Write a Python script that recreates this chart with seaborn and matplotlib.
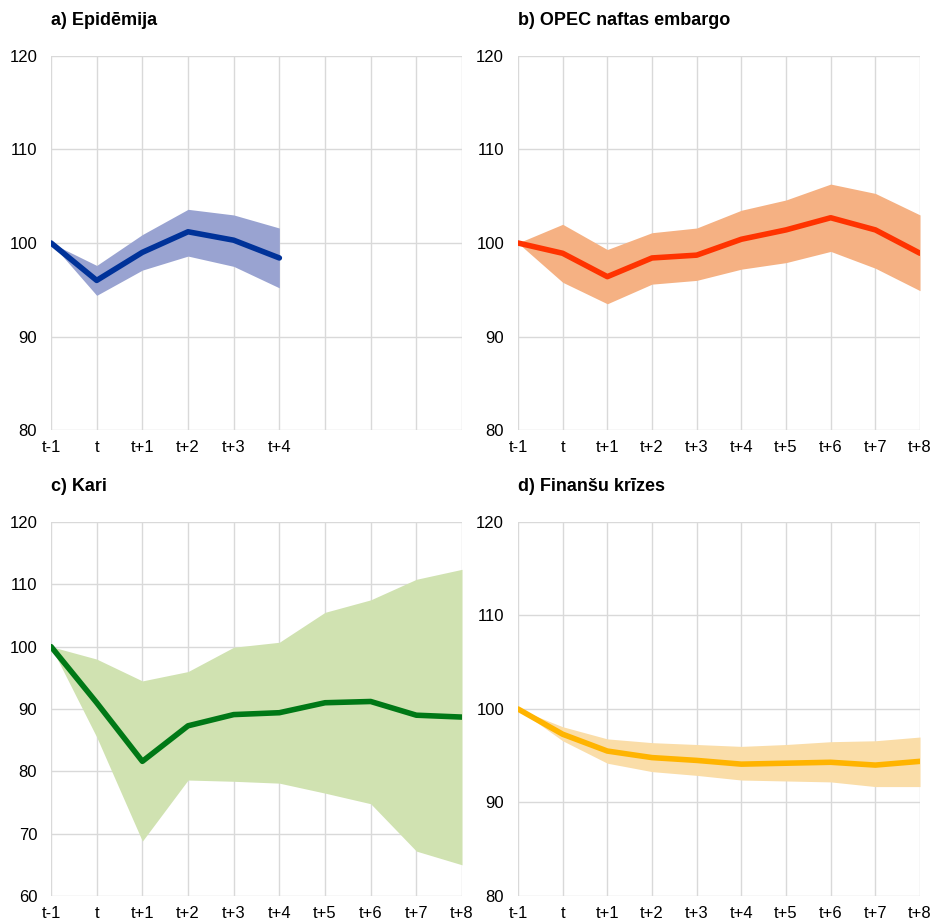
import numpy as np
import pandas as pd
import matplotlib
matplotlib.use("Agg")
import matplotlib.pyplot as plt
import seaborn as sns

labels = ['t-1', 't', 't+1', 't+2', 't+3', 't+4', 't+5', 't+6', 't+7', 't+8']

# a) epidemics
epi_mid = [100, 96.0, 99.0, 101.2, 100.3, 98.4]
epi_hi = [100, 97.6, 100.9, 103.6, 103.0, 101.6]
epi_lo = [100, 94.4, 97.1, 98.6, 97.5, 95.2]

# b) OPEC oil embargo
opec_mid = [100, 98.9, 96.4, 98.4, 98.7, 100.4, 101.4, 102.7, 101.4, 98.9]
opec_hi = [100, 102.0, 99.3, 101.1, 101.6, 103.5, 104.6, 106.3, 105.3, 103.0]
opec_lo = [100, 95.8, 93.5, 95.6, 96.0, 97.2, 97.9, 99.1, 97.3, 94.9]

# c) wars
war_mid = [100, 91.0, 81.6, 87.3, 89.1, 89.4, 91.0, 91.2, 89.0, 88.7]
war_hi = [100, 98.0, 94.5, 96.0, 99.9, 100.7, 105.5, 107.5, 110.8, 112.4]
war_lo = [100, 85.5, 68.8, 78.6, 78.4, 78.1, 76.5, 74.8, 67.2, 65.0]

# d) financial crises
fin_mid = [100, 97.3, 95.5, 94.8, 94.5, 94.1, 94.2, 94.3, 94.0, 94.4]
fin_hi = [100, 98.1, 96.8, 96.4, 96.2, 96.0, 96.2, 96.5, 96.6, 97.0]
fin_lo = [100, 96.6, 94.2, 93.3, 92.9, 92.4, 92.3, 92.2, 91.7, 91.7]

sns.set_style("white")
plt.rcParams['font.family'] = ['Liberation Sans', 'DejaVu Sans']

fig = plt.figure(figsize=(9.33, 9.22), dpi=100)

panels = [
    ('a) Epidēmija', epi_mid, epi_hi, epi_lo, '#003299', '#99A3D1', (80, 120),
     [0.0547, 0.5336, 0.4405, 0.4057]),
    ('b) OPEC naftas embargo', opec_mid, opec_hi, opec_lo, '#FF3300', '#F5B183', (80, 120),
     [0.5552, 0.5336, 0.4309, 0.4057]),
    ('c) Kari', war_mid, war_hi, war_lo, '#007816', '#D0E2B1', (60, 120),
     [0.0547, 0.0282, 0.4405, 0.4057]),
    ('d) Finanšu krīzes', fin_mid, fin_hi, fin_lo, '#FFB400', '#FADDA8', (80, 120),
     [0.5552, 0.0282, 0.4309, 0.4057]),
]

for title, mid, hi, lo, lc, bc, ylim, rect in panels:
    ax = fig.add_axes(rect)
    x = np.arange(len(mid))
    ax.fill_between(x, lo, hi, color=bc, linewidth=0, zorder=2)
    df = pd.DataFrame({'x': x, 'y': mid})
    sns.lineplot(data=df, x='x', y='y', ax=ax, color=lc, linewidth=4, zorder=3)
    ax.set_xlim(0, 9)
    ax.set_ylim(*ylim)
    ax.set_xticks(range(len(labels)))
    # only label the periods that carry data
    ax.set_xticklabels([lab if i < len(mid) else '' for i, lab in enumerate(labels)])
    ax.set_yticks(np.arange(ylim[0], ylim[1] + 1, 10))
    ax.grid(True, color='#D9D9D9', linewidth=1, zorder=0)
    ax.set_axisbelow(True)
    for s in ax.spines.values():
        s.set_visible(False)
    ax.tick_params(axis='both', length=0, labelsize=12, colors='black', pad=7)
    ax.tick_params(axis='y', pad=10)
    ax.set_xlabel('')
    ax.set_ylabel('')
    ax.set_title(title, loc='left', fontsize=13, fontweight='bold', pad=22, color='black')

fig.savefig('out.png', dpi=100)
